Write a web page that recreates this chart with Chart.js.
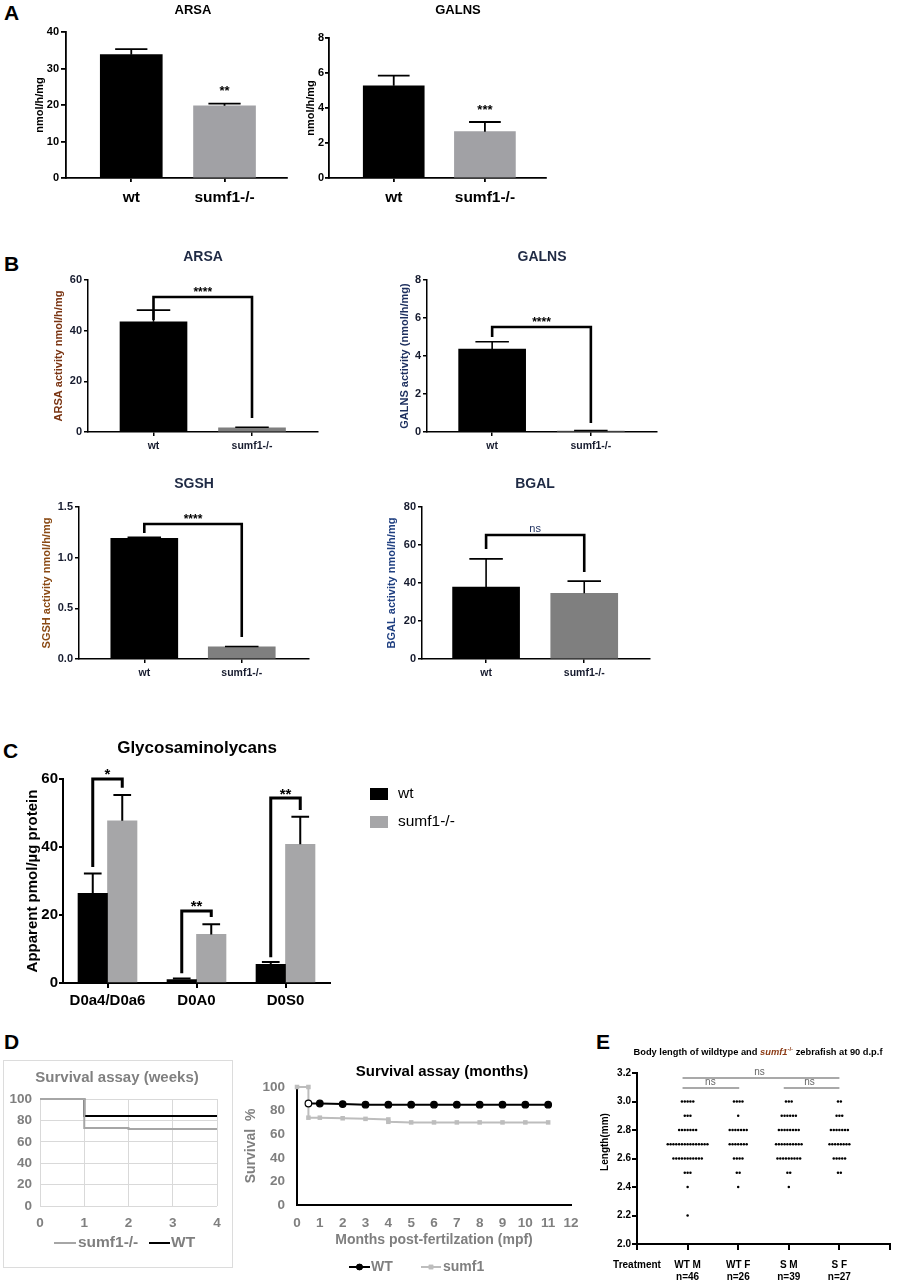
<!DOCTYPE html>
<html>
<head>
<meta charset="utf-8">
<title>sumf1 zebrafish figure</title>
<script src="https://cdn.jsdelivr.net/npm/chart.js@4.4.1/dist/chart.umd.min.js"></script>
<style>
  html, body { margin: 0; background: #fff; }
  #fig { position: relative; width: 899px; height: 1283px; overflow: hidden; font-family: "Liberation Sans", Arial, sans-serif; }
  #fig canvas { position: absolute; left: 0; top: 0; }
  .panel { position: absolute; font-size: 21px; font-weight: bold; line-height: 1; color: #000; }
  #frameD { position: absolute; left: 3px; top: 1060px; width: 230px; height: 208px; box-sizing: border-box; border: 1px solid #dcdcdc; }
</style>
</head>
<body>
<div id="fig">
  <div class="panel" style="left:4px;top:2px">A</div>
  <div class="panel" style="left:4px;top:253px">B</div>
  <div class="panel" style="left:3px;top:740px">C</div>
  <div class="panel" style="left:4px;top:1031px">D</div>
  <div class="panel" style="left:596px;top:1031px">E</div>
  <div id="frameD"></div>
</div>
<script>
// ---- values ----
const genotypes = ['wt', 'sumf1-/-'];

// A: enzyme activity, nmol/h/mg (mean, upper error)
const aArsa = [33.8, 19.8];
const aArsaErr = [1.5, 0.6];
const aGalns = [5.27, 2.65];
const aGalnsErr = [0.58, 0.55];

// B
const bArsa = [43.5, 1.6];
const bArsaErr = [4.6, 0.3];
const bGalns = [4.37, 0.05];
const bGalnsErr = [0.38, 0.03];
const bSgsh = [1.19, 0.12];
const bSgshErr = [0.01, 0.004];
const bBgal = [37.9, 34.6];
const bBgalErr = [14.8, 6.4];

// C: glycosaminoglycans, apparent pmol/ug protein
const gagTypes = ['D0a4/D0a6', 'D0A0', 'D0S0'];
const gagWt = [26.4, 1.0, 5.5];
const gagWtErr = [5.8, 0.3, 0.7];
const gagSumf1 = [47.7, 14.3, 40.8];
const gagSumf1Err = [7.6, 3.0, 8.1];

// D: survival %
const weeks = [0, 1, 2, 3, 4];
const weeksWT = [100, 84, 84, 84, 84];
const weeksSumf1 = [100, 73, 72, 72, 72];
const monthsWT = [0.5, 1, 2, 3, 4, 5, 6, 7, 8, 9, 10, 11];
const survWT = [86, 86, 85.5, 85, 85, 85, 85, 85, 85, 85, 85, 85];
const monthsSumf1 = [0, 0.5, 0.5, 1, 2, 3, 4, 4, 5, 6, 7, 8, 9, 10, 11];
const survSumf1 = [100, 100, 74, 74, 73.5, 73, 72.5, 70.5, 70, 70, 70, 70, 70, 70, 70];

// E: body length (mm), fish counted per 0.1 mm bin
const fishGroups = ['WT M', 'WT F', 'S M', 'S F'];
const fishN = ['n=46', 'n=26', 'n=39', 'n=27'];
const lengthBins = [3.0, 2.9, 2.8, 2.7, 2.6, 2.5, 2.4, 2.3, 2.2];
const countWTM = [5, 3, 7, 15, 11, 3, 1, 0, 1];
const countWTF = [4, 1, 7, 7, 4, 2, 1, 0, 0];
const countSM = [3, 6, 8, 10, 9, 2, 1, 0, 0];
const countSF = [2, 3, 7, 8, 5, 2, 0, 0, 0];

// ---- setup ----
Chart.defaults.font.family = '"Liberation Sans", Arial, Helvetica, sans-serif';
Chart.defaults.animation = false;
Chart.defaults.events = [];
Chart.defaults.plugins.legend.display = false;
Chart.defaults.plugins.tooltip.enabled = false;

const W = 899, H = 1283;
const AXW = 36, AXH = 30;   // fixed axis box sizes so each plot area lands where the figure has it
const GRAY = '#7f7f7f';

function fnt(size, weight = 'bold', style = '') {
  return `${style} ${weight} ${size}px "Liberation Sans", Arial, sans-serif`;
}

// every chart gets its own full-page transparent canvas
function layer() {
  const c = document.createElement('canvas');
  c.width = W;
  c.height = H;
  document.getElementById('fig').appendChild(c);
  return c;
}

function pad(a, xh = AXH) {
  return { left: a.l - AXW, top: a.t, right: W - a.r, bottom: H - a.b - xh };
}

function drawNote(ctx, n) {
  ctx.save();
  ctx.translate(n.x, n.y);
  if (n.rot) ctx.rotate(-Math.PI / 2);
  ctx.textBaseline = 'middle';
  ctx.textAlign = 'left';
  const parts = n.parts || [{ t: n.t, font: n.font, color: n.color }];
  let w = 0;
  parts.forEach(p => { ctx.font = p.font; w += ctx.measureText(p.t).width; });
  let x = n.align === 'left' ? 0 : -w / 2;
  parts.forEach(p => {
    ctx.font = p.font;
    ctx.fillStyle = p.color || '#000';
    ctx.fillText(p.t, x, p.dy || 0);
    x += ctx.measureText(p.t).width;
  });
  ctx.restore();
}

function drawKey(ctx, k) {
  ctx.save();
  ctx.fillStyle = k.color;
  if (k.box) ctx.fillRect(k.box[0], k.box[1], k.box[2], k.box[3]);
  if (k.line) {
    const [x1, x2, y] = k.line;
    ctx.strokeStyle = k.color;
    ctx.lineWidth = k.width || 2;
    ctx.beginPath();
    ctx.moveTo(x1, y);
    ctx.lineTo(x2, y);
    ctx.stroke();
    if (k.point) {
      Chart.helpers.drawPoint(ctx, { pointStyle: k.point, radius: k.r, borderWidth: 0 }, (x1 + x2) / 2, y);
      ctx.fill();
    }
  }
  ctx.restore();
}

// error bars, brackets, stars and free text for one chart
function overlay(spec) {
  return {
    id: 'overlay',
    afterDatasetsDraw(chart) {
      const ctx = chart.ctx;
      const ys = chart.scales.y;
      const px = v => Array.isArray(v) ? chart.getDatasetMeta(v[0]).data[v[1]].x : chart.scales.x.getPixelForValue(v);
      ctx.save();
      ctx.strokeStyle = '#000';
      chart.data.datasets.forEach((ds, di) => {
        if (!ds.err) return;
        ctx.lineWidth = spec.errWidth || 1.5;
        chart.getDatasetMeta(di).data.forEach((bar, i) => {
          const d = ds.data[i];
          const v = typeof d === 'object' ? d.y : d;
          const yt = ys.getPixelForValue(v + ds.err[i]);
          const half = bar.width * (spec.cap || 0.26);
          ctx.beginPath();
          ctx.moveTo(bar.x, bar.y);
          ctx.lineTo(bar.x, yt);
          ctx.moveTo(bar.x - half, yt);
          ctx.lineTo(bar.x + half, yt);
          ctx.stroke();
        });
      });
      ctx.lineWidth = spec.bracketWidth || 2.5;
      ctx.lineJoin = 'miter';
      (spec.brackets || []).forEach(b => {
        const x1 = px(b.x1), x2 = px(b.x2), top = ys.getPixelForValue(b.top);
        ctx.beginPath();
        ctx.moveTo(x1, ys.getPixelForValue(b.y1));
        ctx.lineTo(x1, top);
        ctx.lineTo(x2, top);
        ctx.lineTo(x2, ys.getPixelForValue(b.y2));
        ctx.stroke();
      });
      (spec.lines || []).forEach(l => {
        ctx.strokeStyle = l.color;
        ctx.lineWidth = l.width;
        ctx.beginPath();
        ctx.moveTo(px(l.x1), ys.getPixelForValue(l.y));
        ctx.lineTo(px(l.x2), ys.getPixelForValue(l.y));
        ctx.stroke();
      });
      ctx.textAlign = 'center';
      ctx.textBaseline = 'middle';
      (spec.signif || []).forEach(s => {
        ctx.font = fnt(s.size, s.weight || 'bold');
        ctx.fillStyle = s.color || '#000';
        const lift = s.t.includes('*') ? 0.22 * s.size : 0;   // asterisks sit high in the em box
        ctx.fillText(s.t, px(s.x), ys.getPixelForValue(s.y) + lift);
      });
      ctx.restore();
    },
    afterDraw(chart) {
      (spec.keys || []).forEach(k => drawKey(chart.ctx, k));
      (spec.notes || []).forEach(n => drawNote(chart.ctx, n));
    }
  };
}

function valueAxis(o) {
  return {
    type: 'linear', min: o.min, max: o.max,
    afterFit: s => { s.width = AXW; },
    ticks: { stepSize: o.step, font: o.font, color: o.color || '#000', padding: o.pad, callback: o.fmt || (v => v) },
    grid: { drawOnChartArea: false, tickLength: o.tl, lineWidth: o.lw, color: '#000' },
    border: { color: '#000', width: o.lw }
  };
}

// wt / sumf1 sit at 1 and 2 on a linear axis, so the gaps match the figure
function genotypeAxis(o) {
  return {
    type: 'linear', min: o.min, max: o.max, offset: false,
    afterFit: s => { s.height = AXH; },
    afterBuildTicks: s => { s.ticks = genotypes.map((g, i) => ({ value: i + 1 })); },
    ticks: { autoSkip: false, maxRotation: 0, font: o.font, color: o.color || '#000', padding: o.pad, callback: v => genotypes[v - 1] },
    grid: { offset: false, drawOnChartArea: false, tickLength: o.tl, lineWidth: o.lw, color: '#000' },
    border: { color: '#000', width: o.lw }
  };
}

function genotypeBars(o) {
  return new Chart(layer(), {
    type: 'bar',
    data: {
      datasets: [{
        data: genotypes.map((g, i) => ({ x: i + 1, y: o.mean[i] })),
        err: o.err,
        backgroundColor: o.colors,
        barThickness: o.barW,
        borderWidth: 0
      }]
    },
    options: {
      responsive: false,
      layout: { padding: pad(o.area) },
      scales: { x: genotypeAxis(o.x), y: valueAxis(o.y) }
    },
    plugins: [overlay(o.overlay)]
  });
}

// ---- A ----
const aCat = { size: 15.5, weight: 'bold' };
const aTick = { size: 11, weight: 'bold' };

genotypeBars({
  area: { l: 66, t: 32, r: 287, b: 178 },
  mean: aArsa, err: aArsaErr, colors: ['#000', '#a1a1a5'], barW: 62,
  x: { min: 0.3, max: 2.67, font: aCat, pad: 6, tl: 4, lw: 1.8 },
  y: { min: 0, max: 40, step: 10, font: aTick, pad: 2, tl: 5, lw: 1.8 },
  overlay: {
    errWidth: 1.8,
    signif: [{ t: '**', x: 2, y: 24.4, size: 13 }],
    notes: [
      { t: 'ARSA', x: 193, y: 10, font: fnt(13) },
      { t: 'nmol/h/mg', x: 40, y: 105, rot: true, font: fnt(11) }
    ]
  }
});

genotypeBars({
  area: { l: 329, t: 38, r: 546, b: 178 },
  mean: aGalns, err: aGalnsErr, colors: ['#000', '#a1a1a5'], barW: 61,
  x: { min: 0.29, max: 2.67, font: aCat, pad: 6, tl: 4, lw: 1.8 },
  y: { min: 0, max: 8, step: 2, font: aTick, pad: 1, tl: 4, lw: 1.8 },
  overlay: {
    errWidth: 1.8,
    signif: [{ t: '***', x: 2, y: 4.0, size: 13 }],
    notes: [
      { t: 'GALNS', x: 458, y: 10, font: fnt(13) },
      { t: 'nmol/h/mg', x: 311, y: 108, rot: true, font: fnt(11) }
    ]
  }
});

// ---- B ----
const bInk = '#161b2e';
const bCat = { size: 10.5, weight: 'bold' };
const bTick = { size: 11, weight: 'bold' };

function bPanel(o) {
  genotypeBars({
    area: o.area, mean: o.mean, err: o.err, colors: ['#000', '#7f7f7f'], barW: 67,
    x: { min: o.xr[0], max: o.xr[1], font: bCat, color: bInk, pad: 3.5, tl: 4, lw: 1.5 },
    y: { min: 0, max: o.max, step: o.step, font: bTick, color: bInk, pad: 2, tl: 4, lw: 1.5, fmt: o.fmt },
    overlay: {
      errWidth: 1.6, cap: 0.25, bracketWidth: 2.6,
      brackets: [o.bracket],
      signif: [o.sig],
      notes: [
        { t: o.title, x: o.titleX, y: o.area.t - 23, font: fnt(14), color: '#1f2a44' },
        { t: o.yTitle, x: o.yTitleX, y: (o.area.t + o.area.b) / 2, rot: true, font: fnt(11), color: o.yColor }
      ]
    }
  });
}

bPanel({
  area: { l: 88, t: 280, r: 318, b: 432 }, xr: [0.335, 2.67],
  mean: bArsa, err: bArsaErr, max: 60, step: 20,
  bracket: { x1: 1, x2: 2, y1: 44.2, top: 53.3, y2: 5.5 },
  sig: { t: '****', x: 1.5, y: 56.1, size: 12 },
  title: 'ARSA', titleX: 203, yTitle: 'ARSA activity nmol/h/mg', yTitleX: 59, yColor: '#7a3412'
});

bPanel({
  area: { l: 427, t: 280, r: 657, b: 432 }, xr: [0.34, 2.67],
  mean: bGalns, err: bGalnsErr, max: 8, step: 2,
  bracket: { x1: 1, x2: 2, y1: 5.0, top: 5.53, y2: 0.47 },
  sig: { t: '****', x: 1.5, y: 5.89, size: 12 },
  title: 'GALNS', titleX: 542, yTitle: 'GALNS activity (nmol/h/mg)', yTitleX: 405, yColor: '#1d2f5e'
});

bPanel({
  area: { l: 79, t: 507, r: 309, b: 659 }, xr: [0.33, 2.69],
  mean: bSgsh, err: bSgshErr, max: 1.5, step: 0.5, fmt: v => v.toFixed(1),
  bracket: { x1: 1, x2: 2, y1: 1.243, top: 1.332, y2: 0.217 },
  sig: { t: '****', x: 1.5, y: 1.401, size: 12 },
  title: 'SGSH', titleX: 194, yTitle: 'SGSH activity nmol/h/mg', yTitleX: 47, yColor: '#8a4a14'
});

bPanel({
  area: { l: 422, t: 507, r: 650, b: 659 }, xr: [0.347, 2.67],
  mean: bBgal, err: bBgalErr, max: 80, step: 20,
  bracket: { x1: 1, x2: 2, y1: 57.9, top: 65.3, y2: 45.8 },
  sig: { t: 'ns', x: 1.5, y: 68.4, size: 11, weight: 'normal', color: '#1d2f5e' },
  title: 'BGAL', titleX: 535, yTitle: 'BGAL activity nmol/h/mg', yTitleX: 392, yColor: '#1f3f80'
});

// ---- C ----
new Chart(layer(), {
  type: 'bar',
  data: {
    labels: gagTypes,
    datasets: [
      { label: 'wt', data: gagWt, err: gagWtErr, backgroundColor: '#000', barThickness: 29.5, borderWidth: 0 },
      { label: 'sumf1-/-', data: gagSumf1, err: gagSumf1Err, backgroundColor: '#a6a6a8', barThickness: 29.5, borderWidth: 0 }
    ]
  },
  options: {
    responsive: false,
    layout: { padding: pad({ l: 63, t: 779, r: 330, b: 983 }) },
    scales: {
      x: {
        afterFit: s => { s.height = AXH; },
        ticks: { font: { size: 15, weight: 'bold' }, color: '#000', padding: 4, maxRotation: 0 },
        grid: { offset: false, drawOnChartArea: false, tickLength: 5, lineWidth: 2, color: '#000' },
        border: { color: '#000', width: 2 }
      },
      y: valueAxis({ min: 0, max: 60, step: 20, font: { size: 15, weight: 'bold' }, pad: 1, tl: 4, lw: 2 })
    }
  },
  plugins: [overlay({
    errWidth: 2, cap: 0.3, bracketWidth: 3,
    brackets: [
      { x1: [0, 0], x2: [1, 0], y1: 34.1, top: 60, y2: 57.4 },
      { x1: [0, 1], x2: [1, 1], y1: 2.9, top: 21.2, y2: 19.4 },
      { x1: [0, 2], x2: [1, 2], y1: 7.6, top: 54.4, y2: 50.9 }
    ],
    signif: [
      { t: '*', x: 0, y: 62.1, size: 15 },
      { t: '**', x: 1, y: 23.5, size: 15 },
      { t: '**', x: 2, y: 56.2, size: 15 }
    ],
    keys: [
      { box: [370, 788, 18, 12], color: '#000' },
      { box: [370, 816, 18, 12], color: '#a6a6a8' }
    ],
    notes: [
      { t: 'Glycosaminolycans', x: 197, y: 748, font: fnt(17) },
      { t: 'Apparent pmol/µg protein', x: 33, y: 881, rot: true, font: fnt(15) },
      { t: 'wt', x: 398, y: 794, align: 'left', font: fnt(15.5, 'normal') },
      { t: 'sumf1-/-', x: 398, y: 822, align: 'left', font: fnt(15.5, 'normal') }
    ]
  })]
});

// ---- D, weeks ----
const dTick = { size: 13.5, weight: 'bold' };

new Chart(layer(), {
  type: 'line',
  data: {
    datasets: [
      { label: 'sumf1-/-', data: weeks.map((w, i) => ({ x: w, y: weeksSumf1[i] })), borderColor: '#a6a6a6', borderWidth: 2, pointRadius: 0, stepped: true, clip: 5 },
      { label: 'WT', data: weeks.map((w, i) => ({ x: w, y: weeksWT[i] })), borderColor: '#000', borderWidth: 2, pointRadius: 0, stepped: true, clip: 5 }
    ]
  },
  options: {
    responsive: false,
    layout: { padding: pad({ l: 40, t: 1099, r: 217, b: 1206 }) },
    scales: {
      x: {
        type: 'linear', min: 0, max: 4,
        afterFit: s => { s.height = AXH; },
        ticks: { stepSize: 1, autoSkip: false, maxRotation: 0, font: dTick, color: GRAY, padding: 9 },
        grid: { color: '#d9d9d9', drawTicks: false },
        border: { display: false }
      },
      y: {
        type: 'linear', min: 0, max: 100,
        afterFit: s => { s.width = AXW; },
        ticks: { stepSize: 20, font: dTick, color: GRAY, padding: 8 },
        grid: { color: '#d9d9d9', drawTicks: false },
        border: { display: false }
      }
    }
  },
  plugins: [overlay({
    keys: [
      { line: [54, 76, 1243], color: '#a6a6a6', width: 2 },
      { line: [149, 170, 1243], color: '#000', width: 2 }
    ],
    notes: [
      { t: 'Survival assay (weeks)', x: 117, y: 1078, font: fnt(15), color: '#808080' },
      { t: 'sumf1-/-', x: 78, y: 1243, align: 'left', font: fnt(15.5), color: GRAY },
      { t: 'WT', x: 171, y: 1243, align: 'left', font: fnt(15.5), color: GRAY }
    ]
  })]
});

// ---- D, months ----
new Chart(layer(), {
  type: 'line',
  data: {
    datasets: [
      {
        label: 'WT', data: monthsWT.map((m, i) => ({ x: m, y: survWT[i] })),
        borderColor: '#000', borderWidth: 2, pointRadius: 3.3, pointStyle: 'circle',
        pointBackgroundColor: monthsWT.map((m, i) => i === 0 ? '#fff' : '#000'), pointBorderColor: '#000', pointBorderWidth: 1.2, clip: false
      },
      {
        label: 'sumf1', data: monthsSumf1.map((m, i) => ({ x: m, y: survSumf1[i] })),
        borderColor: '#bdbdbd', borderWidth: 2, pointRadius: 3.2, pointStyle: 'rect',
        pointBackgroundColor: '#bdbdbd', pointBorderWidth: 0, clip: false
      }
    ]
  },
  options: {
    responsive: false,
    layout: { padding: pad({ l: 297, t: 1087, r: 571, b: 1205 }) },
    scales: {
      x: {
        type: 'linear', min: 0, max: 12,
        afterFit: s => { s.height = AXH; },
        ticks: { stepSize: 1, autoSkip: false, maxRotation: 0, font: dTick, color: GRAY, padding: 10 },
        grid: { display: false, drawTicks: false },
        border: { color: '#000', width: 2 }
      },
      y: {
        type: 'linear', min: 0, max: 100,
        afterFit: s => { s.width = AXW; },
        ticks: { stepSize: 20, font: dTick, color: GRAY, padding: 12 },
        grid: { display: false, drawTicks: false },
        border: { color: '#000', width: 2 }
      }
    }
  },
  plugins: [overlay({
    keys: [
      { line: [349, 370, 1267], color: '#000', width: 2, point: 'circle', r: 3.2 },
      { line: [421, 441, 1267], color: '#bdbdbd', width: 2, point: 'rect', r: 3.2 }
    ],
    notes: [
      { t: 'Survival assay (months)', x: 442, y: 1072, font: fnt(15) },
      { t: 'Survival  %', x: 251, y: 1146, rot: true, font: fnt(14), color: GRAY },
      { t: 'Months post-fertilzation (mpf)', x: 434, y: 1240, font: fnt(14), color: GRAY },
      { t: 'WT', x: 371, y: 1267, align: 'left', font: fnt(14), color: GRAY },
      { t: 'sumf1', x: 443, y: 1267, align: 'left', font: fnt(14), color: GRAY }
    ]
  })]
});

// ---- E ----
const DOT_GAP = 0.056;   // horizontal spacing of fish sharing a length bin
const E_XH = 39;         // taller x-axis box: tick labels are clipped to it and these have two lines
const fishPoints = [];
[countWTM, countWTF, countSM, countSF].forEach((counts, g) => {
  counts.forEach((n, r) => {
    for (let j = 0; j < n; j++) {
      fishPoints.push({ x: g + 1 + (j - (n - 1) / 2) * DOT_GAP, y: lengthBins[r] });
    }
  });
});

new Chart(layer(), {
  type: 'scatter',
  data: { datasets: [{ data: fishPoints, pointRadius: 1.25, backgroundColor: '#000', borderWidth: 0 }] },
  options: {
    responsive: false,
    layout: { padding: pad({ l: 637, t: 1073, r: 895, b: 1244 }, E_XH) },
    scales: {
      x: {
        type: 'linear', min: 0, max: fishGroups.length + 1,
        afterFit: s => { s.height = E_XH; },
        afterBuildTicks: s => { s.ticks = [0, ...fishGroups.map((g, i) => i + 1), fishGroups.length + 1].map(v => ({ value: v })); },
        ticks: {
          autoSkip: false, maxRotation: 0, font: { size: 10, weight: 'bold' }, color: '#000', padding: 9,
          callback: v => v === 0 ? 'Treatment' : (v <= fishGroups.length ? [fishGroups[v - 1], fishN[v - 1]] : '')
        },
        grid: { drawOnChartArea: false, tickLength: 6, lineWidth: 2, color: '#000' },
        border: { color: '#000', width: 2 }
      },
      y: valueAxis({ min: 2.0, max: 3.2, step: 0.2, font: { size: 10, weight: 'bold' }, pad: 1, tl: 5, lw: 2, fmt: v => v.toFixed(1) })
    }
  },
  plugins: [overlay({
    lines: [
      { x1: 0.9, x2: 4.0, y: 3.165, color: '#8c8c8c', width: 1.5 },
      { x1: 0.9, x2: 2.02, y: 3.095, color: '#8c8c8c', width: 1.5 },
      { x1: 2.9, x2: 4.0, y: 3.095, color: '#8c8c8c', width: 1.5 }
    ],
    signif: [
      { t: 'ns', x: 2.42, y: 3.207, size: 10, weight: 'normal', color: '#666' },
      { t: 'ns', x: 1.45, y: 3.137, size: 10, weight: 'normal', color: '#666' },
      { t: 'ns', x: 3.41, y: 3.137, size: 10, weight: 'normal', color: '#666' }
    ],
    notes: [
      {
        x: 758, y: 1052, parts: [
          { t: 'Body length of wildtype and ', font: fnt(9.3) },
          { t: 'sumf1', font: fnt(9.3, 'bold', 'italic'), color: '#8b3a14' },
          { t: '-/-', font: fnt(6), color: '#8b3a14', dy: -3 },
          { t: ' zebrafish at 90 d.p.f', font: fnt(9.3) }
        ]
      },
      { t: 'Length(mm)', x: 605, y: 1142, rot: true, font: fnt(10) }
    ]
  })]
});
</script>
</body>
</html>
